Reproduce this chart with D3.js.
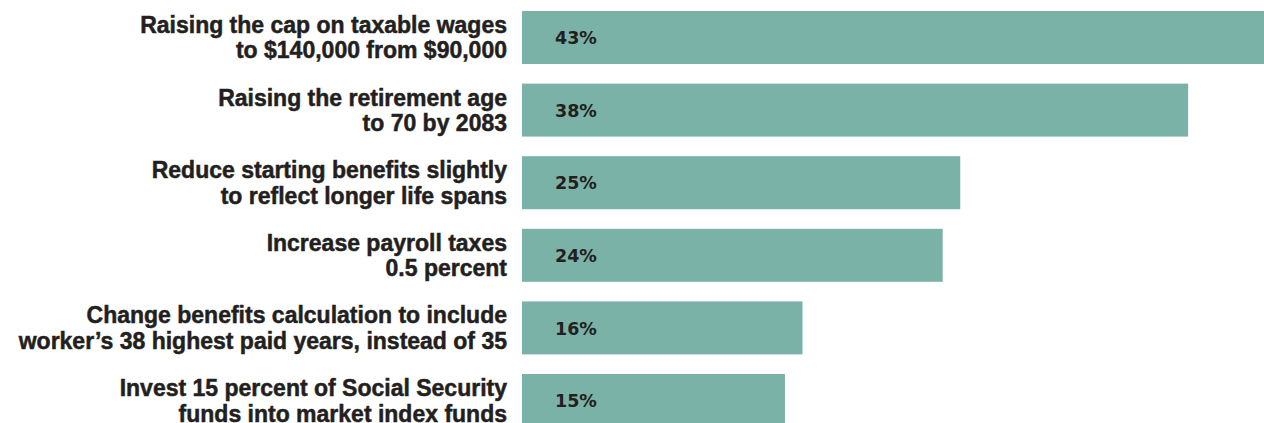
<!DOCTYPE html>
<html><head><meta charset="utf-8">
<script src="https://cdn.jsdelivr.net/npm/d3@7"></script>
<style>html,body{margin:0;padding:0;background:#fff;overflow:hidden}</style>
</head><body>
<svg id="c" width="1264" height="423"></svg>
<script>
const categories = [
  ["Raising the cap on taxable wages", "to $140,000 from $90,000"],
  ["Raising the retirement age", "to 70 by 2083"],
  ["Reduce starting benefits slightly", "to reflect longer life spans"],
  ["Increase payroll taxes", "0.5 percent"],
  ["Change benefits calculation to include", "worker\u2019s 38 highest paid years, instead of 35"],
  ["Invest 15 percent of Social Security", "funds into market index funds"]
];
const values = [43, 38, 25, 24, 16, 15];
const valueLabels = ["43%", "38%", "25%", "24%", "16%", "15%"];

const svg = d3.select("#c");
const x0 = 522;
const x = d3.scaleLinear().domain([0, 10]).range([x0, x0 + 175.3]);
const y = d3.scaleBand().domain(d3.range(values.length)).range([11, 427]).paddingInner(0.27).paddingOuter(0);
const barColor = "#7bb2a7", textColor = "#231f20";

svg.selectAll("rect.bar").data(values).join("rect")
  .attr("x", x(0)).attr("y", (d, i) => y(i))
  .attr("width", d => x(d) - x(0)).attr("height", y.bandwidth())
  .attr("fill", barColor);

const lab = svg.selectAll("text.cat").data(categories).join("text")
  .attr("text-anchor", "end")
  .attr("font-family", "'Liberation Sans', Arial, sans-serif")
  .attr("font-weight", "bold").attr("font-size", 23).attr("fill", textColor)
  .attr("stroke", textColor).attr("stroke-width", 0.5);
lab.each(function(d, i) {
  const t = d3.select(this);
  const cy = y(i) + y.bandwidth() / 2;
  d.forEach((line, k) => {
    t.append("tspan").attr("x", 507).attr("y", cy - 4.5 + (k * 25.5)).text(line);
  });
});

svg.selectAll("text.val").data(valueLabels).join("text")
  .attr("x", x(0) + 33).attr("y", (d, i) => y(i) + y.bandwidth() / 2 + 6.8)
  .attr("font-family", "'DejaVu Sans', sans-serif")
  .attr("font-weight", "bold").attr("font-size", 17.5).attr("fill", textColor)
  .text(d => d);
</script>
</body></html>
